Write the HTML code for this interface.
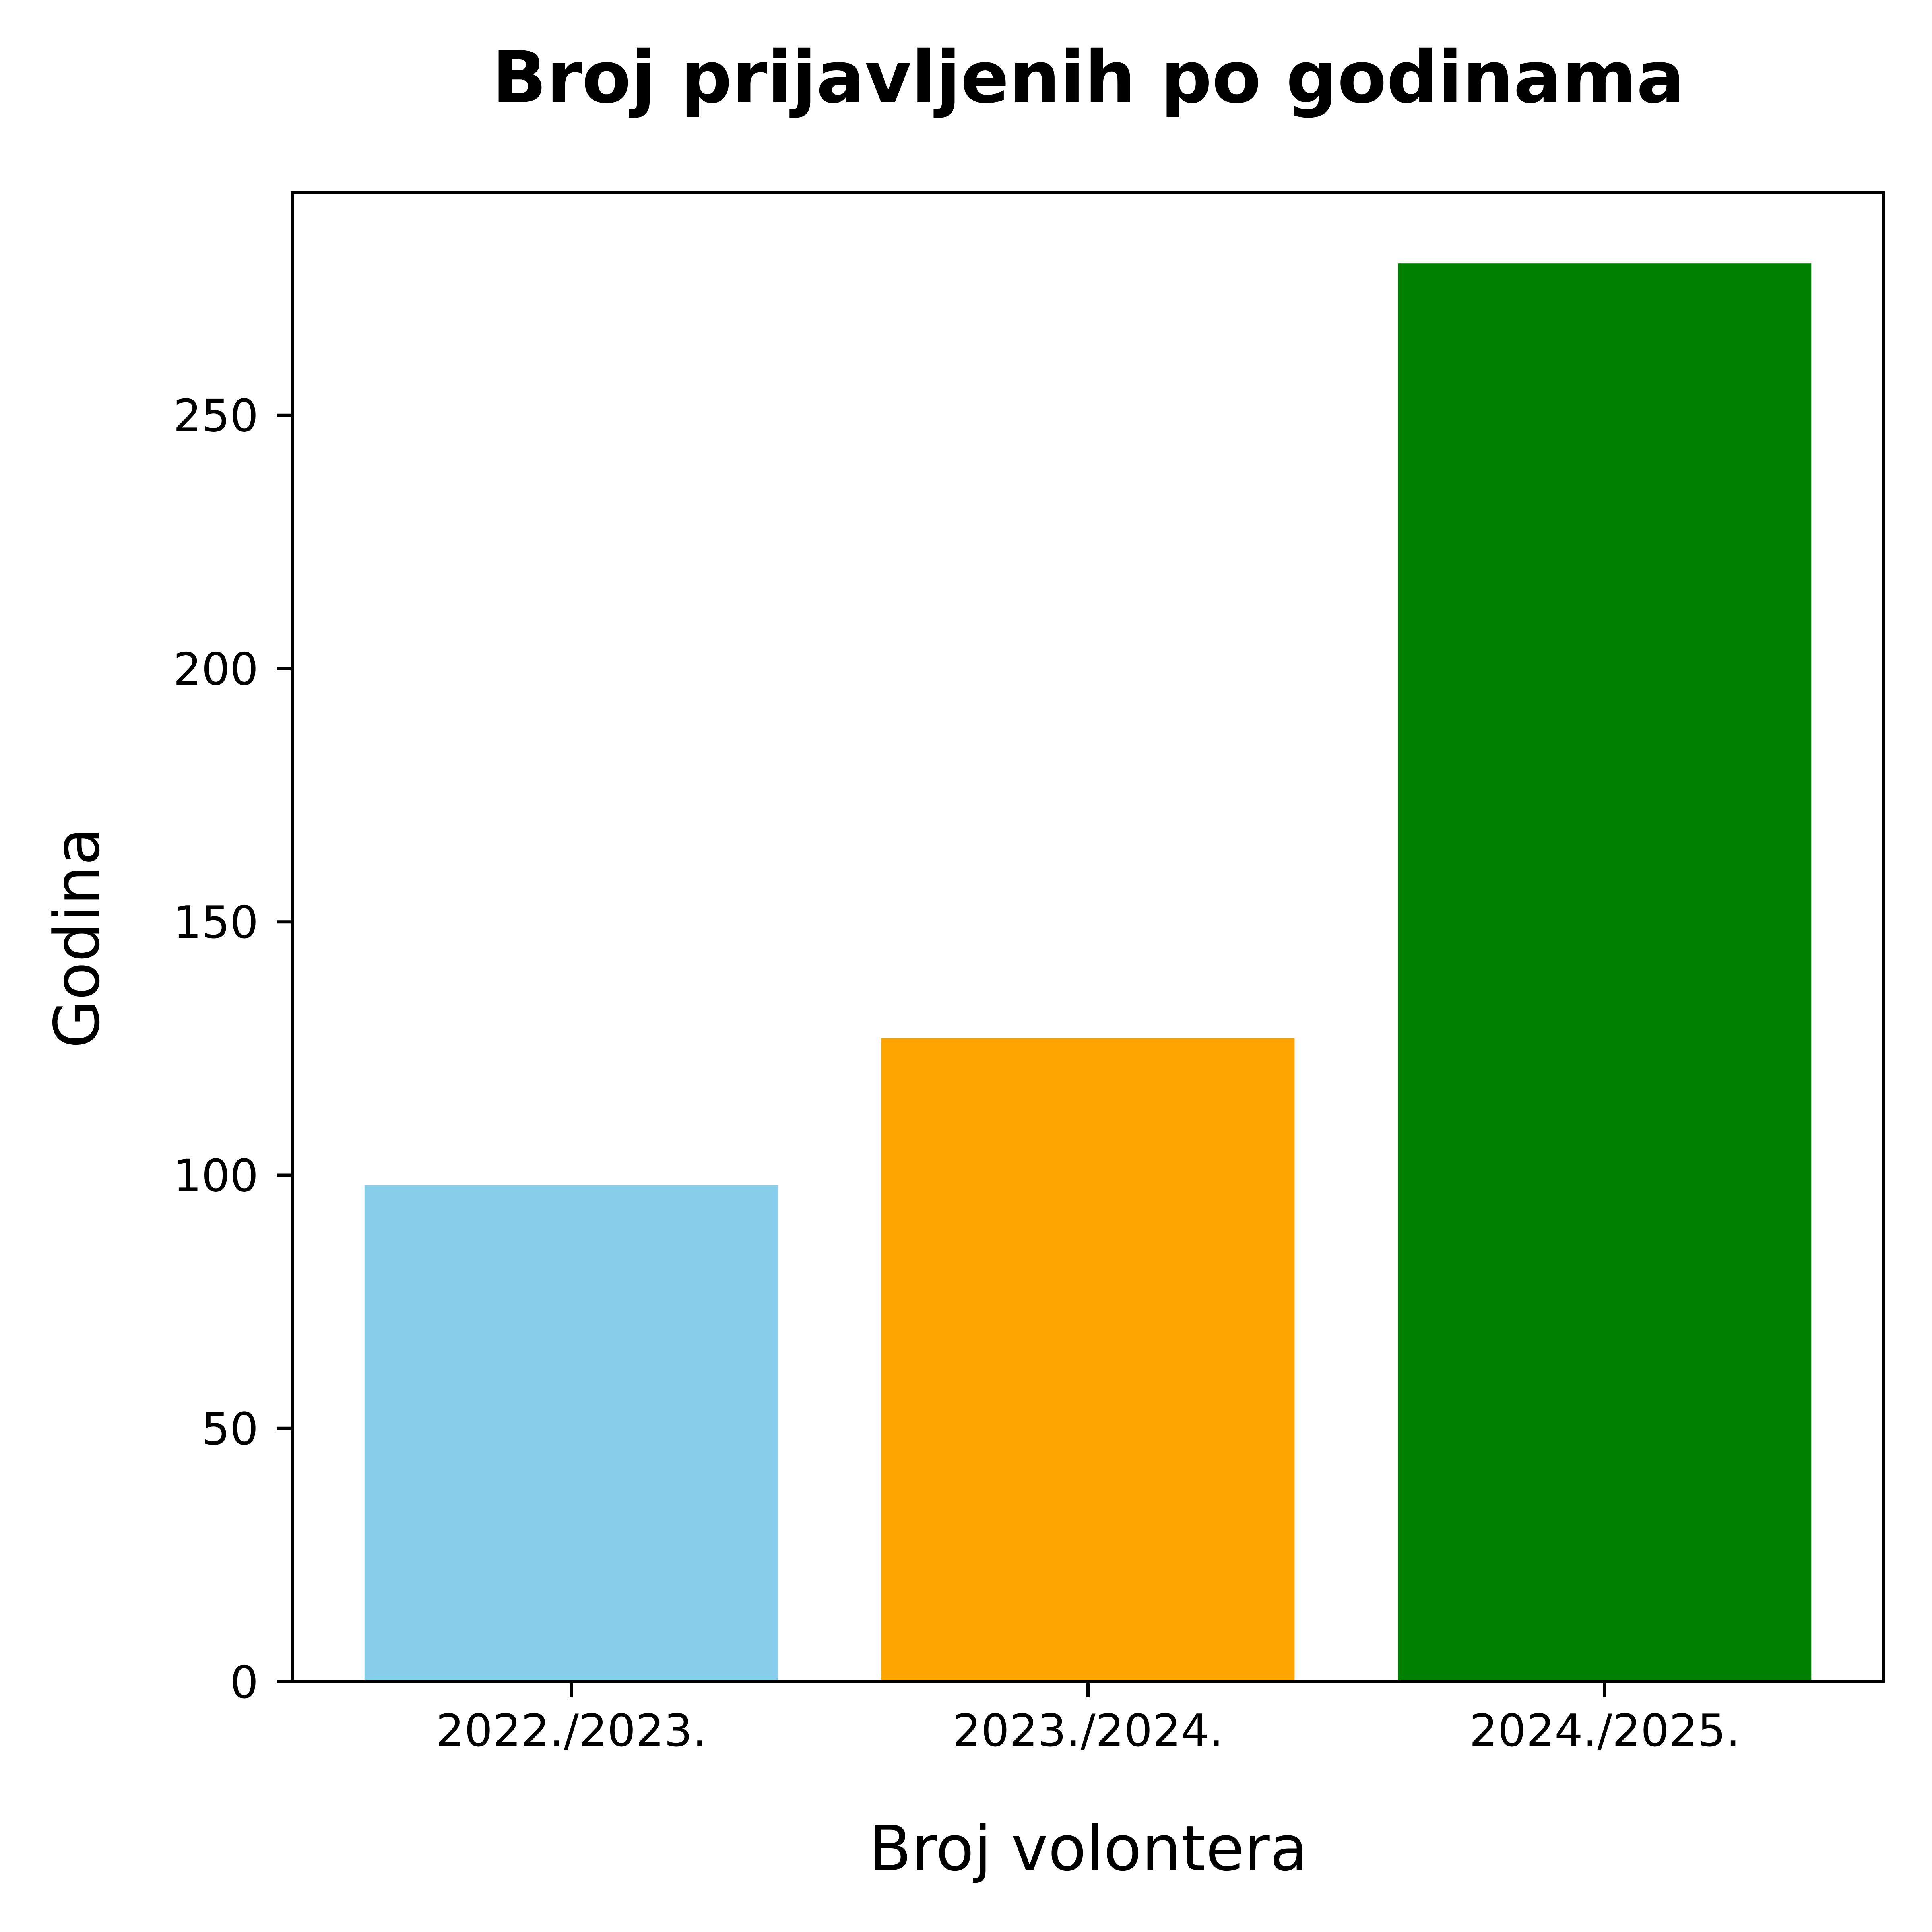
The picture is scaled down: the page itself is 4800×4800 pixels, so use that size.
<!DOCTYPE html>
<html><head><meta charset="utf-8"><style>
html,body{margin:0;padding:0;background:#fff;}
svg{display:block;font-family:"DejaVu Sans","Liberation Sans",sans-serif;}
</style></head><body>
<svg id="chart" width="4800" height="4800" viewBox="0 0 4800 4800" xmlns="http://www.w3.org/2000/svg">
<rect width="4800" height="4800" fill="#fff"/>
<text x="2704" y="254" text-anchor="middle" font-size="178" font-weight="bold">Broj prijavljenih po godinama</text>
<text x="2704" y="4646" text-anchor="middle" font-size="155">Broj volontera</text>
<text transform="translate(245,2330) rotate(-90)" text-anchor="middle" font-size="155">Godina</text>
<g id="bars"></g>
<g id="axes"></g>
</svg>
<script>
const categories = ["2022./2023.", "2023./2024.", "2024./2025."];
const values = [98, 127, 280];
const colors = ["#87CEEB", "#FFA500", "#008000"];
const yTicks = [0, 50, 100, 150, 200, 250];

const L = 726, R = 4680, T = 478, B = 4178;
const xMin = -0.54, xMax = 2.54, yMin = 0, yMax = 294;
const NS = "http://www.w3.org/2000/svg";
function xs(v){ return L + (v - xMin) / (xMax - xMin) * (R - L); }
function ys(v){ return B - (v - yMin) / (yMax - yMin) * (B - T); }
function mk(tag, attrs){ const e = document.createElementNS(NS, tag); for (const k in attrs) e.setAttribute(k, attrs[k]); return e; }

const bars = document.getElementById('bars');
const axes = document.getElementById('axes');
const bw = 0.8;
categories.forEach((c, i) => {
  const x0 = xs(i - bw/2), x1 = xs(i + bw/2);
  const r = mk('rect', {x: x0, y: ys(values[i]), width: x1 - x0, height: ys(0) - ys(values[i]), fill: colors[i]});
  
  
  bars.appendChild(r);
  const t = mk('line', {x1: xs(i), x2: xs(i), y1: B, y2: B + 39, stroke: '#000', 'stroke-width': 8});
  
  
  axes.appendChild(t);
  const lb = mk('text', {x: xs(i), y: 4338, 'text-anchor': 'middle', 'font-size': 111});
  lb.textContent = c;
  
  
  axes.appendChild(lb);
});
yTicks.forEach(v => {
  const t = mk('line', {x1: L - 39, x2: L, y1: ys(v), y2: ys(v), stroke: '#000', 'stroke-width': 8});
  
  
  axes.appendChild(t);
  const lb = mk('text', {x: 642, y: ys(v) + 40, 'text-anchor': 'end', 'font-size': 111});
  lb.textContent = v;
  
  
  axes.appendChild(lb);
});
const frame = mk('rect', {x: L, y: T, width: R - L, height: B - T, fill: 'none', stroke: '#000', 'stroke-width': 8});


axes.appendChild(frame);
</script>
</body></html>
